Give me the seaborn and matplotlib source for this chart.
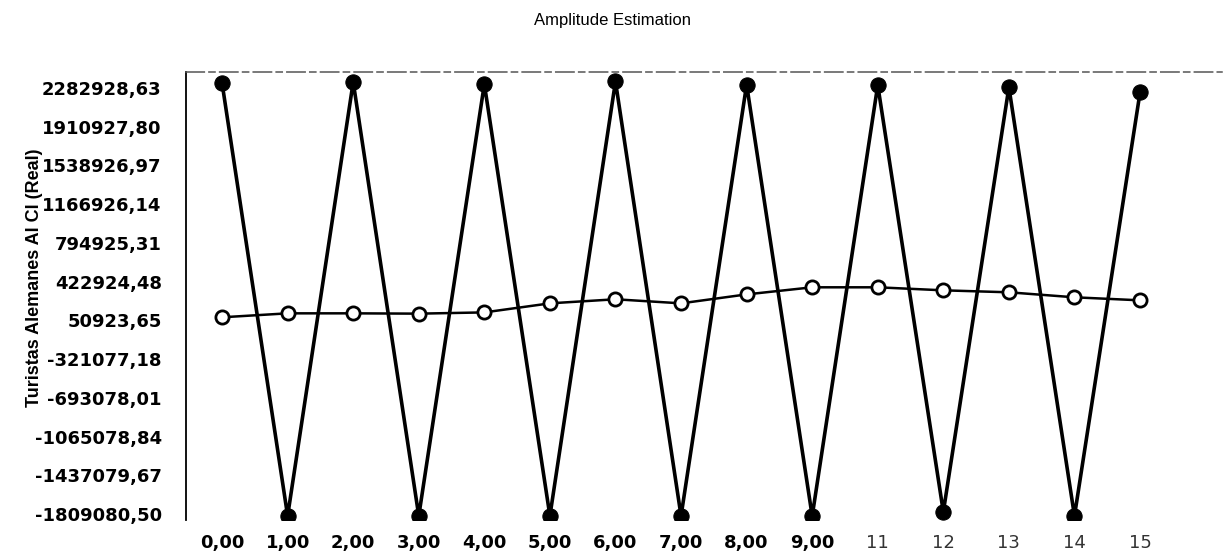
# Amplitude Estimation - recreated chart
import numpy as np
import pandas as pd
import matplotlib
matplotlib.use("Agg")
import matplotlib.pyplot as plt
import seaborn as sns

# data
x_labels = ["0,00", "1,00", "2,00", "3,00", "4,00", "5,00", "6,00", "7,00",
            "8,00", "9,00", "11", "12", "13", "14", "15"]
real_values = [2330000, -1828000, 2340000, -1828000, 2320000, -1828000, 2345000, -1828000,
               2315000, -1830000, 2310000, -1790000, 2290000, -1828000, 2240000]
estimated = [80000, 118000, 118000, 115000, 127000, 214000, 253000, 214000,
             300000, 368000, 368000, 339000, 320000, 272000, 243000]
y_ticks = [2282928.63, 1910927.80, 1538926.97, 1166926.14, 794925.31, 422924.48,
           50923.65, -321077.18, -693078.01, -1065078.84, -1437079.67, -1809080.50]

df = pd.DataFrame({"idx": range(len(x_labels)), "real": real_values, "est": estimated})

sns.set_theme(style="white")
plt.rcParams["font.family"] = ["Liberation Sans", "DejaVu Sans"]
plt.rcParams["text.color"] = "black"
plt.rcParams["xtick.color"] = "black"
plt.rcParams["ytick.color"] = "black"

fig = plt.figure(figsize=(12.23, 5.51), dpi=100)
ax = fig.add_axes([186 / 1223, 1 - 520 / 551, (1222 - 186) / 1223, (520 - 72) / 551])

sns.lineplot(data=df, x="idx", y="real", ax=ax, color="black", linewidth=2.6,
             marker="o", markersize=11, markerfacecolor="black", markeredgecolor="black")
sns.lineplot(data=df, x="idx", y="est", ax=ax, color="black", linewidth=1.8,
             marker="o", markersize=9.5, markerfacecolor="white", markeredgecolor="black",
             markeredgewidth=2)

ax.set_xlim(-0.55, 15.25)
ax.set_ylim(-1867000, 2436000)

ax.set_yticks(y_ticks)
ax.set_yticklabels([f"{v:.2f}".replace(".", ",") for v in y_ticks],
                   fontsize=13, fontweight="bold", family="DejaVu Sans", color="black")
ax.set_xticks(df["idx"])
ax.set_xticklabels(x_labels, fontsize=13, fontweight="bold", family="DejaVu Sans",
                   color="black")
for lab in ax.get_xticklabels()[10:]:
    lab.set_fontweight("normal")
    lab.set_color("#333333")

ax.tick_params(axis="y", direction="inout", length=5, width=1.5, color="black", pad=15)
ax.tick_params(axis="x", direction="out", length=3, width=1.5, color="black", pad=7)

ax.set_xlabel("")
ax.set_ylabel("")
fig.text(35 / 1223, 1 - 278 / 551, "Turistas Alemanes Al Cl (Real)", rotation=90,
         ha="center", va="center", fontsize=13, fontweight="bold", color="black")

for side in ["right", "bottom"]:
    ax.spines[side].set_visible(False)
ax.spines["left"].set_color("black")
ax.spines["left"].set_linewidth(1.3)
ax.spines["top"].set_color("#555555")
ax.spines["top"].set_linestyle((0, (12, 3, 4, 3)))
ax.spines["top"].set_linewidth(1.1)

fig.text(612 / 1223, 1 - 20 / 551, "Amplitude Estimation", ha="center", va="center",
         fontsize=12, color="black")

fig.savefig("out.png", dpi=100)
